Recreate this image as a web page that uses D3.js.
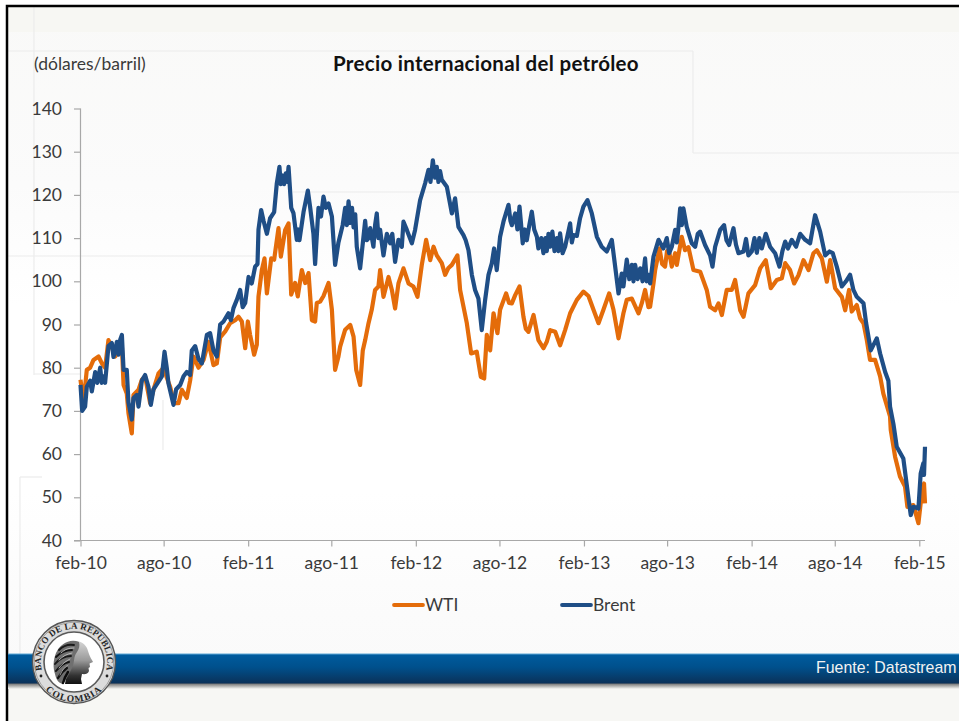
<!DOCTYPE html>
<html><head><meta charset="utf-8">
<script src="https://cdn.jsdelivr.net/npm/d3@7/dist/d3.min.js"></script>
<style>html,body{margin:0;padding:0;background:#fff;overflow:hidden}svg{display:block}</style>
</head><body><svg id="c" width="959" height="721"></svg>
<script>
const title = "Precio internacional del petróleo";
const unit = "(dólares/barril)";
const source = "Fuente: Datastream";
const yTicks = [40,50,60,70,80,90,100,110,120,130,140];
const tickDates = ["2010-02-01","2010-08-01","2011-02-01","2011-08-01","2012-02-01","2012-08-01","2013-02-01","2013-08-01","2014-02-01","2014-08-01","2015-02-01"];
const tickLabels = ["feb-10","ago-10","feb-11","ago-11","feb-12","ago-12","feb-13","ago-13","feb-14","ago-14","feb-15"];
// Time in months elapsed since feb-10, value in dollars per barrel (10 per row, rows match)
const brentMonths = [
0,.12,.33,.45,.69,.81,1.05,1.2,1.41,1.52,
1.64,1.76,2,2.24,2.36,2.48,2.6,2.72,2.84,2.96,
3.08,3.31,3.43,3.67,3.79,4.03,4.15,4.39,4.62,4.86,
5.03,5.22,5.58,5.82,6.01,6.17,6.29,6.65,6.84,7.13,
7.37,7.6,7.84,7.96,8.2,8.44,8.68,9.04,9.27,9.51,
9.75,9.99,10.23,10.58,10.76,10.94,11.18,11.42,11.6,11.78,
12.02,12.25,12.49,12.66,12.73,12.92,13.09,13.33,13.56,13.85,
14.04,14.23,14.32,14.44,14.56,14.68,14.78,14.88,15.07,15.23,
15.47,15.58,15.66,15.95,16.26,16.43,16.66,16.78,17.02,17.2,
17.38,17.55,17.74,17.98,18.21,18.45,18.75,18.93,19.05,19.17,
19.3,19.42,19.53,19.65,19.76,20,20.36,20.48,20.6,20.72,
20.95,21.07,21.19,21.31,21.43,21.67,21.91,22.15,22.3,22.5,
22.74,22.98,23.1,23.34,23.7,23.93,24.29,24.65,24.89,25.03,
25.2,25.36,25.48,25.6,25.72,25.84,26.2,26.56,26.79,27.03,
27.39,27.55,27.75,27.99,28.22,28.46,28.7,28.94,29.18,29.42,
29.58,29.77,30.01,30.25,30.61,30.75,30.85,31.09,31.25,31.4,
31.63,31.78,31.92,32.1,32.28,32.45,32.64,32.75,32.95,33.11,
33.25,33.35,33.47,33.59,33.75,33.9,34.07,34.18,34.3,34.48,
34.66,35.02,35.14,35.26,35.5,35.73,35.97,36.26,36.57,36.93,
37.28,37.64,38,38.24,38.48,38.71,38.83,39.07,39.25,39.43,
39.55,39.67,39.85,40.03,40.2,40.38,40.5,40.62,40.74,40.98,
41.34,41.69,41.93,42.1,42.29,42.53,42.65,42.77,42.89,43.01,
43.12,43.36,43.72,43.96,44.15,44.32,44.67,45.03,45.2,45.39,
45.75,46.03,46.2,46.39,46.7,46.88,47.06,47.42,47.6,47.77,
48.01,48.2,48.37,48.55,48.73,49.01,49.32,49.68,49.99,50.2,
50.4,50.6,50.87,51.18,51.47,51.83,52.18,52.54,52.9,53.26,
53.57,53.8,54.09,54.45,54.75,55.04,55.28,55.52,56,56.19,
56.52,56.95,57.19,57.55,57.78,57.9,58.14,58.38,58.85,59.21,
59.38,59.57,59.93,60.09,60.28,60.33,60.4];
const brentValues = [
76,70,71,75.6,77,74.5,79,76.5,80,76.5,
78,76.5,85,85.7,82.5,84,86,83,86.5,87.6,
79.5,79.5,72,68,73,73.7,71,77,78.3,75.6,
71.4,75,76.8,78,83.7,80,76.4,71.4,75,76,
78,79,78.3,84,85,82,81,87.6,88,84,
82.6,90,90.7,92.6,91,93.8,95.7,98,94,95,
101,99.5,103.4,104,112,116.5,114,111,114.6,116,
122.7,126.5,122.5,124.5,122.5,125,123,126.5,117,115.8,
109.6,112,109.5,116,121,117,111,104,117,115,
119.6,117,118,115,103.8,109,113,117,113,118.5,
113.5,117,112.5,115.5,108,103,114,109.5,110,112.3,
108,113,115.7,110,111.9,106,111,108.8,111,104.5,
109.6,108,113.8,111.9,108.8,111.9,118.8,122.7,125.8,123,
128,124,126.5,123,125.5,123.5,121.9,115.7,119.2,112.6,
110.7,109.5,107.2,101.5,98,96,88.7,95.7,101.5,104.2,
107.6,102.6,110.3,113.8,117.7,114,113,115.7,112,117.3,
108.8,112,109.5,113,116.1,112,110.3,107.6,110,106.5,
110,107,111,108,111.5,107,110,107,111.1,106.5,
108,113.4,109,110.7,110.5,114.6,117.3,118.8,115.7,110.3,
108,106.9,109.6,103.4,97.2,101.8,98.8,105,100.5,103.8,
100,103.8,100.5,103,100,105.3,100,101.5,99.5,105.7,
109.6,107.6,110,106.5,108,111.9,109,112.6,116.9,113,
116.9,112.6,108.8,108,111,111.5,108.4,106,103.4,108,
111.9,113,109.5,108.4,112.3,108.5,106.5,106.9,109.8,106,
106.9,110,106.6,110,107.6,111,108,106.5,103.4,107,
109.2,107.6,109.6,108,111,109.6,108.8,115.3,111.5,106,
106.9,106.5,103.4,98.8,100,101.5,98,96.4,94.9,90.3,
84,86.8,83.3,79,77,71,67,61.7,59,50,
45.9,47.8,47.4,55.5,57.9,55.2,61.7];
const wtiMonths = [
0,.21,.45,.69,.93,1.29,1.53,1.76,2,2.24,
2.48,2.72,2.96,3.08,3.31,3.43,3.67,3.79,4.15,4.39,
4.62,4.98,5.22,5.58,5.94,6.17,6.41,6.7,7.01,7.25,
7.6,7.84,8.08,8.44,8.8,9.15,9.51,9.75,9.99,10.35,
10.7,11.06,11.3,11.54,11.78,11.97,12.13,12.42,12.61,12.73,
12.97,13.16,13.33,13.64,13.85,14.16,14.33,14.64,14.88,15.07,
15.35,15.54,15.83,16.07,16.31,16.55,16.78,16.9,17.14,17.38,
17.74,17.98,18.21,18.45,18.57,18.93,19.29,19.53,19.72,20,
20.19,20.36,20.6,20.83,21.07,21.31,21.43,21.67,22.03,22.27,
22.5,22.74,23.1,23.46,23.81,24.1,24.41,24.72,25.01,25.25,
25.48,25.84,26.08,26.3,26.56,26.96,27.15,27.63,27.94,28.34,
28.63,28.87,29.06,29.3,29.54,29.82,30.01,30.44,30.65,30.85,
31.09,31.4,31.68,31.85,32.04,32.4,32.75,33.11,33.35,33.59,
33.95,34.3,34.66,35.02,35.5,35.97,36.33,36.69,37.05,37.4,
37.81,38.12,38.48,38.83,39.07,39.43,39.91,40.15,40.38,40.62,
40.74,40.98,41.1,41.41,41.6,41.81,41.95,42.12,42.29,42.53,
42.65,43,43.24,43.48,43.84,44.32,44.79,45.03,45.39,45.63,
45.87,46.22,46.58,46.82,47.18,47.42,47.77,48.25,48.61,49.01,
49.37,49.8,50.16,50.4,50.75,51.04,51.35,51.71,52.07,52.42,
52.66,53.02,53.38,53.62,53.97,54.45,54.69,54.97,55.16,55.52,
55.76,56,56.24,56.47,56.83,57.19,57.42,57.9,57.95,58.26,
58.61,58.97,59.14,59.57,59.93,60.09,60.33,60.4];
const wtiValues = [
77.2,71.8,79.5,80,81.8,82.6,81,80,86.4,84.8,
82.6,84,85,76,74,69.5,64.8,73.7,74.9,77.2,
78,71.8,74.9,78.7,80,77.7,75.6,71.8,71.8,74.9,
73,77,82.6,80,81.8,86,80.6,81,87,88.4,
90.3,91,91.8,90.7,84.5,90.7,87.6,83,85.3,96.5,
102.6,105.3,97.2,105.3,105,112.3,105.7,111.9,113.4,96.9,
99.6,96.5,102.6,99.6,101.9,91,90.7,95,95.3,96.6,
99.6,93.4,79.5,82.6,84.9,88.8,89.9,87.2,79.5,76,
84,86.4,90.3,93.4,98,98.8,102.6,96.4,101,98,
93.7,99.5,103,99.5,98.8,96.4,103.8,109.6,104.9,108,
106,104.2,101.5,103,103.8,106,98,90.3,83.3,83.7,
77.9,77.5,87.6,84,92.6,88,93.4,97.2,95,94.9,
96.8,98.8,91.8,89,88.3,92.2,86.4,84.5,86,88.7,
88.3,85.2,88.7,92.6,95.7,97.6,96.6,93.4,90.3,93.4,
97.2,93.4,86.8,92.6,95.7,96,92.6,95,98,94,
94.1,99.5,102.6,107.6,104,103.4,107,106.5,103.4,106.5,
103.8,110.3,107.2,107.9,102.6,102.2,98,94.1,93.3,94.9,
92.2,98,98,100.3,93.3,91.8,97.2,99.1,103,104.9,
98.4,100.3,100.7,104.2,102.6,99.5,101.4,104.9,102.6,106.5,
107.2,105.3,99.9,104.9,98.4,96.4,93.3,98,93,94.5,
91.4,90.3,86.4,81.8,81.8,78,74,68.7,65.6,59.4,
54.8,52.5,47.8,48.2,44,48.6,53.2,48.6];
const legendNames = ["WTI","Brent"];

const svg = d3.select("#c");
const defs = svg.append("defs");
const FONT = "Lato, 'Open Sans', sans-serif";

function grad(id, stops){
  const g = defs.append("linearGradient").attr("id",id).attr("x1",0).attr("x2",0).attr("y1",0).attr("y2",1);
  stops.forEach(s=>g.append("stop").attr("offset",s[0]).attr("stop-color",s[1]));
}
grad("bg",[[0,"#f9f9f8"],[.25,"#fbfbfb"],[.42,"#ffffff"],[.68,"#ffffff"],[.85,"#fbfbfb"],[1,"#f9f9f9"]]);
grad("band",[[0,"#005c9f"],[.45,"#00508c"],[1,"#0b3158"]]);
grad("shade",[[0,"#666"],[1,"#f7f7f4"]]);
grad("neck",[[0,"#d6d6d6"],[.45,"#9a9a9a"],[.8,"#333"],[1,"#111"]]);

svg.append("rect").attr("x",7).attr("y",6).attr("width",952).attr("height",715).attr("fill","url(#bg)");
svg.append("rect").attr("x",8).attr("y",7).attr("width",951).attr("height",25).attr("fill","#f7f7f3");
svg.append("rect").attr("x",8).attr("y",684).attr("width",951).attr("height",37).attr("fill","#f7f7f4");
const faint = [[8,51,693,51],[693,51,693,153],[693,153,959,153],[293,192,959,192],[8,256,260,256],[34,7,34,375],[34,374,80,374],[163,400,163,450],[20,477,20,654],[20,477,42,477]];
svg.append("g").selectAll("line").data(faint).join("line")
  .attr("x1",d=>d[0]).attr("y1",d=>d[1]).attr("x2",d=>d[2]).attr("y2",d=>d[3])
  .attr("stroke","#ececec").attr("stroke-width",1.2);
svg.append("path").attr("d","M7,721V6H959").attr("fill","none").attr("stroke","#000").attr("stroke-width",2.5);

const t0 = Date.UTC(2010,1,1);
const toDate = m => new Date(t0 + m/12*365.25*864e5);
const x = d3.scaleUtc().domain([new Date(t0), toDate(60.4)]).range([80.5,925]);
const y = d3.scaleLinear().domain([40,140]).range([540.5,108.5]);
const parse = d3.utcParse("%Y-%m-%d");

const xAxis = d3.axisBottom(x).tickValues(tickDates.map(parse)).tickSize(6).tickPadding(10)
  .tickFormat((d,i)=>tickLabels[i]);
const yAxis = d3.axisLeft(y).tickValues(yTicks).tickSize(6.5).tickPadding(12);

const gy = svg.append("g").attr("transform","translate(80.5,0)").call(yAxis);
gy.select(".domain").attr("d","M0,108.5V540.5");
const gx = svg.append("g").attr("transform","translate(0,540.5)").call(xAxis);
gx.select(".domain").attr("d","M74,0H925");
[gx,gy].forEach(g=>{
  g.selectAll(".domain,.tick line").attr("stroke","#a8a8a8").attr("stroke-width",1.2);
  g.selectAll("text").attr("fill","#3a3a3a").style("font-family",FONT).style("font-size","17.5px");
});

const line = d3.line().x(d=>x(toDate(d[0]))).y(d=>y(d[1])).curve(d3.curveLinear);
const wti = d3.zip(wtiMonths, wtiValues), brent = d3.zip(brentMonths, brentValues);
svg.append("path").attr("d",line(wti)).attr("fill","none").attr("stroke","#e46c0a").attr("stroke-width",4.2).attr("stroke-linejoin","round");
svg.append("path").attr("d",line(brent)).attr("fill","none").attr("stroke","#1f4e86").attr("stroke-width",4.2).attr("stroke-linejoin","round");

svg.append("text").attr("x",34).attr("y",70).text(unit).attr("fill","#3a3a3a").style("font-family",FONT).style("font-size","17.5px");
svg.append("text").attr("x",333).attr("y",70.5).text(title).attr("fill","#111").style("font-family",FONT).style("font-size","20.5px").style("font-weight","700").attr("letter-spacing",".3");

const lg = svg.append("g").selectAll("g").data(legendNames).join("g");
const legendColor = d3.scaleOrdinal(legendNames,["#e46c0a","#1f4e86"]);
const legendX = d3.scalePoint(legendNames,[394,562]);
lg.append("line").attr("x1",d=>legendX(d)).attr("x2",d=>legendX(d)+29).attr("y1",605).attr("y2",605)
  .attr("stroke",d=>legendColor(d)).attr("stroke-width",3.8).attr("stroke-linecap","round");
lg.append("text").attr("x",d=>legendX(d)+31).attr("y",611).text(d=>d).attr("fill","#3a3a3a").style("font-family",FONT).style("font-size","17.5px");

svg.append("rect").attr("x",8).attr("y",683).attr("width",951).attr("height",6).attr("fill","url(#shade)");
svg.append("rect").attr("x",8).attr("y",654).attr("width",951).attr("height",29.5).attr("fill","url(#band)");
svg.append("rect").attr("x",8).attr("y",653.5).attr("width",951).attr("height",1).attr("fill","#5fa7d6");
svg.append("text").attr("x",956.5).attr("y",672.7).attr("text-anchor","end").text(source).attr("fill","#f2f2f2").style("font-family","'Liberation Sans',Arial,sans-serif").style("font-size","15.9px");

// seal
const seal = svg.append("g").attr("transform","translate(74,662)");
seal.append("circle").attr("r",41.5).attr("fill","#dcdcdc").attr("stroke","#555").attr("stroke-width",1.4);
seal.append("circle").attr("r",39.8).attr("fill","none").attr("stroke","#888").attr("stroke-width",.7);
seal.append("circle").attr("r",30).attr("fill","#fff").attr("stroke","#5a5a5a").attr("stroke-width",1.6);
defs.append("path").attr("id","arcTop").attr("d","M0,33.2A33.2,33.2 0 1 1 0,-33.2A33.2,33.2 0 1 1 0,33.2");
defs.append("path").attr("id","arcBot").attr("d","M-31,25A39.8,39.8 0 0 0 31,25");
const serif = "'Liberation Serif',serif";
seal.append("text").style("font-family",serif).style("font-weight","700").style("font-size","9px").attr("fill","#262626").attr("letter-spacing",".2")
  .append("textPath").attr("href","#arcTop").attr("startOffset","50%").attr("text-anchor","middle").text("BANCO DE LA REPUBLICA");
seal.append("text").style("font-family",serif).style("font-weight","700").style("font-size","9.5px").attr("fill","#262626").attr("letter-spacing","1.2")
  .append("textPath").attr("href","#arcBot").attr("startOffset","50%").attr("text-anchor","middle").text("COLOMBIA");
seal.append("g").selectAll("circle").data([[-33,14],[33,14]]).join("circle")
  .attr("cx",d=>d[0]).attr("cy",d=>d[1]).attr("r",1.4).attr("fill","#222");
// profile head, facing right
seal.append("path").attr("fill","url(#neck)")
  .attr("d","M3,-21C9,-20 13,-16 14,-11L15,-8C16,-5 18,-2 19,0L15.5,1.5L16,5L14.5,6L15,9C14,12 11,12.5 8,12L7,17L8,22L-9,22L-6,4L-2,-18Z");
seal.append("path").attr("fill","#6f6f6f")
  .attr("d","M5,-20C-4,-24 -14,-18 -18,-9C-21,-2 -21,6 -19,12C-18,17 -16,21 -11,22C-8,18 -5,12 -2,6C1,0 -1,-5 3,-10C5,-13 6,-16 5,-20Z");
seal.append("g").attr("fill","none").attr("stroke-linecap","round").selectAll("path")
  .data([
    ["M-15,-12C-11,-16 -6,-18 0,-17","#1a1a1a",1.8],["M-18,-5C-13,-10 -8,-12 -2,-12","#111",1.9],
    ["M-19,2C-15,-3 -10,-6 -3,-6","#1a1a1a",1.9],["M-18,9C-14,4 -10,1 -5,0","#111",2],
    ["M-16,16C-13,11 -10,8 -7,6","#111",2.2],["M-11,21C-10,17 -8,13 -6,10","#0c0c0c",2.4],
    ["M-13,-9C-9,-13 -5,-14 0,-14","#c4c4c4",.9],["M-15,-2C-11,-6 -7,-8 -2,-9","#c4c4c4",.9],
    ["M-15,6C-12,2 -8,-1 -4,-3","#bdbdbd",.9],["M-14,13C-12,8 -9,5 -6,3","#aaa",.9]
  ]).join("path").attr("d",d=>d[0]).attr("stroke",d=>d[1]).attr("stroke-width",d=>d[2]);
</script></body></html>
